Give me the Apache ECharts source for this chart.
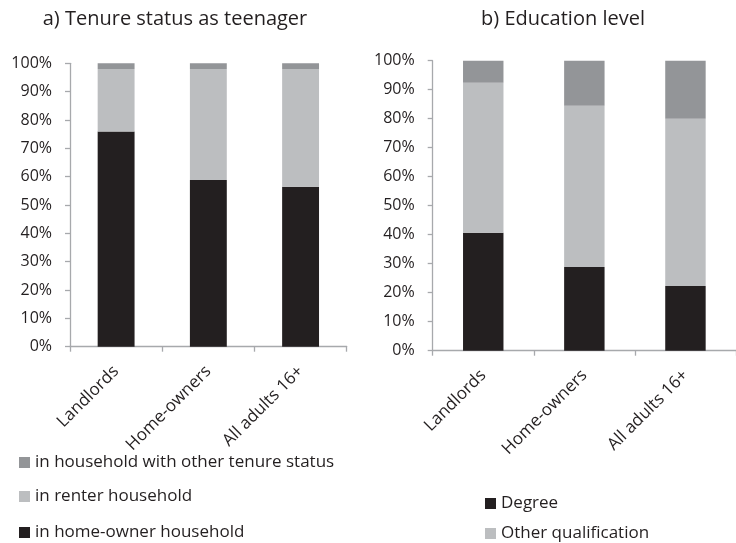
<!DOCTYPE html>
<html>
<head>
<meta charset="utf-8">
<script src="https://cdn.jsdelivr.net/npm/echarts@6/dist/echarts.min.js"></script>
<style>html,body{margin:0;padding:0;background:#fff}#c{width:736px;height:543px}</style>
</head>
<body>
<div id="c"></div>
<script>
var categories = ['Landlords', 'Home-owners', 'All adults 16+'];
var yTicks = [0, 10, 20, 30, 40, 50, 60, 70, 80, 90, 100];

// a) Tenure status as teenager (percent)
var homeOwnerHH = [75.9, 58.8, 56.4];
var renterHH = [22.1, 39.2, 41.6];
var otherTenureHH = [2.0, 2.0, 2.0];

// b) Education level (percent)
var degree = [40.7, 28.9, 22.3];
var otherQual = [51.7, 55.6, 57.7];
var noQual = [7.6, 15.5, 20.0];

var FONT = 'Open Sans';
var TXT = '#231f20';
var AX = '#a7a9ac';
var C_BLACK = '#231f20';
var C_LIGHT = '#bcbec0';
var C_DARK = '#939598';

function xAxis(gi) {
  return {
    type: 'category', gridIndex: gi, data: categories,
    axisLine: {show: true, lineStyle: {color: AX, width: 1.3}},
    axisTick: {show: true, length: 5, lineStyle: {color: AX, width: 1.3}},
    axisLabel: {rotate: 45, margin: 22, color: TXT, fontFamily: FONT, fontSize: 17, interval: 0}
  };
}
function yAxis(gi) {
  return {
    type: 'value', gridIndex: gi, min: yTicks[0], max: yTicks[yTicks.length - 1], interval: 10,
    axisLine: {show: true, lineStyle: {color: AX, width: 1.3}},
    axisTick: {show: true, length: 5, lineStyle: {color: AX, width: 1.3}},
    splitLine: {show: false},
    axisLabel: {formatter: '{value}%', margin: 18, color: TXT, fontFamily: FONT, fontSize: 16}
  };
}
function bar(name, data, color, gi) {
  return {
    name: name, type: 'bar', stack: 's' + gi, data: data, xAxisIndex: gi, yAxisIndex: gi,
    barWidth: '40%', itemStyle: {color: color}, emphasis: {disabled: true}
  };
}
function legendItem(name, left, top) {
  return {
    orient: 'vertical', left: left, top: top, itemWidth: 11, itemHeight: 11, icon: 'rect',
    data: [name], selectedMode: false,
    textStyle: {fontFamily: FONT, fontSize: 17, color: TXT}
  };
}

var chart = echarts.init(document.getElementById('c'), null, {renderer: 'canvas'});
chart.setOption({
  animation: false,
  backgroundColor: '#fff',
  textStyle: {fontFamily: FONT},
  title: [
    {text: 'a) Tenure status as teenager', left: 170, top: 4, textAlign: 'center',
     textStyle: {fontFamily: FONT, fontSize: 20, fontWeight: 'normal', color: TXT}},
    {text: 'b) Education level', left: 558, top: 4, textAlign: 'center',
     textStyle: {fontFamily: FONT, fontSize: 20, fontWeight: 'normal', color: TXT}}
  ],
  grid: [
    {left: 70, top: 63.3, width: 276.7, bottom: 196.3, containLabel: false},
    {left: 432.7, top: 60.7, width: 315, bottom: 192.3, containLabel: false}
  ],
  xAxis: [xAxis(0), xAxis(1)],
  yAxis: [yAxis(0), yAxis(1)],
  legend: [
    legendItem('in household with other tenure status', 14, 449),
    legendItem('in renter household', 14, 483),
    legendItem('in home-owner household', 14, 519),
    legendItem('Degree', 480, 490),
    legendItem('Other qualification', 480, 520)
  ],
  series: [
    bar('in home-owner household', homeOwnerHH, C_BLACK, 0),
    bar('in renter household', renterHH, C_LIGHT, 0),
    bar('in household with other tenure status', otherTenureHH, C_DARK, 0),
    bar('Degree', degree, C_BLACK, 1),
    bar('Other qualification', otherQual, C_LIGHT, 1),
    bar('No qualification', noQual, C_DARK, 1)
  ]
});
</script>
</body>
</html>
